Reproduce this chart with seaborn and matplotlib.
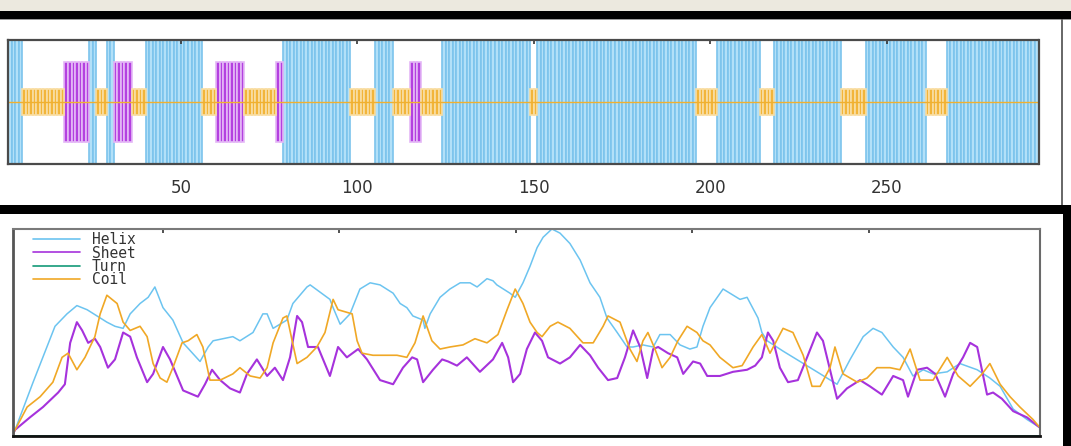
import numpy as np
import pandas as pd
import matplotlib
matplotlib.use('Agg')
import matplotlib.pyplot as plt
from matplotlib.lines import Line2D
import seaborn as sns

# secondary structure along the sequence (h=helix, e=sheet, c=coil), as runs
seg_state = ['h', 'c', 'e', 'h', 'c', 'h', 'e', 'c', 'h', 'c', 'e', 'c', 'e', 'h', 'c',
             'h', 'c', 'e', 'c', 'h', 'c', 'h', 'c', 'h', 'c', 'h', 'c', 'h', 'c', 'h']
seg_len = [4, 12, 7, 2, 3, 2, 5, 4, 16, 4, 8, 9, 2, 19, 7,
           5, 5, 3, 6, 25, 2, 45, 6, 12, 4, 19, 7, 17, 6, 26]
top_ticks = [50, 100, 150, 200, 250]

# profile curves (position, score)
helix_x = [7.5, 8.1, 13.2, 19.4, 22.8, 25.6, 28.5, 31.3, 34.1, 36.4,
           38.7, 40.7, 43.5, 45.8, 47.7, 50.0, 52.8, 55.7, 60.5, 62.8,
           64.2, 69.8, 71.8, 75.5, 78.3, 79.5, 81.2, 85.1, 86.8, 90.8,
           91.7, 97.3, 98.2, 100.2, 103.0, 105.8, 108.7, 111.5, 115.2, 117.2,
           119.1, 120.8, 123.7, 124.2, 125.7, 128.5, 131.3, 134.2, 137.0, 139.0,
           141.8, 143.5, 144.6, 148.3, 149.8, 152.0, 154.0, 156.0, 157.7, 160.2,
           162.5, 165.3, 168.2, 171.0, 173.8, 175.8, 178.7, 181.5, 183.2, 186.0,
           188.9, 190.8, 193.7, 196.5, 199.3, 201.3, 203.0, 205.0, 208.7, 213.5,
           215.5, 218.6, 219.7, 221.2, 225.7, 230.5, 235.3, 241.0, 244.7, 248.4,
           251.2, 253.7, 256.9, 259.7, 262.5, 265.4, 268.2, 272.2, 275.8, 280.7,
           284.3, 287.2, 290.9, 294.8, 298.5]
helix_y = [0.01, 0.03, 0.26, 0.53, 0.59, 0.63, 0.61, 0.58, 0.55, 0.53,
           0.52, 0.59, 0.64, 0.67, 0.72, 0.62, 0.56, 0.45, 0.36, 0.43,
           0.46, 0.48, 0.46, 0.50, 0.59, 0.59, 0.52, 0.56, 0.64, 0.72,
           0.73, 0.66, 0.62, 0.54, 0.59, 0.71, 0.74, 0.73, 0.69, 0.64,
           0.62, 0.58, 0.56, 0.52, 0.59, 0.67, 0.71, 0.74, 0.74, 0.72,
           0.76, 0.75, 0.73, 0.69, 0.67, 0.74, 0.82, 0.91, 0.96, 1.00,
           0.98, 0.93, 0.85, 0.74, 0.67, 0.57, 0.50, 0.43, 0.43, 0.44,
           0.43, 0.49, 0.49, 0.44, 0.42, 0.43, 0.53, 0.62, 0.71, 0.66,
           0.67, 0.57, 0.50, 0.46, 0.41, 0.36, 0.31, 0.25, 0.37, 0.48,
           0.52, 0.50, 0.43, 0.38, 0.29, 0.32, 0.30, 0.31, 0.35, 0.32,
           0.28, 0.24, 0.13, 0.08, 0.04]

sheet_x = [7.5, 8.1, 12.3, 16.0, 20.3, 22.2, 23.7, 25.6, 27.1, 28.8,
           30.7, 32.2, 34.4, 36.4, 38.7, 40.7, 42.6, 45.5, 47.2, 50.0,
           52.0, 55.7, 59.9, 61.9, 63.9, 66.2, 69.0, 71.8, 73.8, 76.6,
           79.5, 81.7, 84.0, 86.0, 88.0, 89.4, 91.1, 93.9, 97.3, 99.6,
           102.1, 105.3, 107.8, 111.5, 115.2, 118.0, 120.6, 122.0, 123.7, 126.5,
           129.1, 130.8, 133.3, 136.1, 139.8, 143.5, 146.1, 147.8, 149.2, 151.2,
           153.1, 155.4, 157.4, 159.1, 162.5, 165.3, 168.2, 171.0, 173.3, 176.1,
           178.7, 180.9, 183.2, 185.2, 187.2, 188.9, 190.3, 193.1, 195.7, 197.4,
           200.2, 202.2, 204.2, 207.8, 211.5, 215.5, 217.8, 219.7, 221.4, 222.9,
           224.8, 227.1, 229.9, 232.5, 235.3, 237.0, 239.0, 241.0, 243.8, 247.5,
           250.3, 253.7, 256.9, 259.7, 261.1, 263.7, 266.5, 268.8, 271.6, 273.9,
           276.7, 278.7, 280.7, 283.5, 285.2, 287.7, 290.9, 294.8, 298.5]
sheet_y = [0.01, 0.03, 0.09, 0.14, 0.21, 0.25, 0.45, 0.55, 0.51, 0.45,
           0.47, 0.43, 0.33, 0.37, 0.50, 0.48, 0.38, 0.26, 0.30, 0.43,
           0.37, 0.22, 0.19, 0.25, 0.32, 0.27, 0.23, 0.21, 0.30, 0.37,
           0.29, 0.33, 0.27, 0.38, 0.58, 0.55, 0.43, 0.43, 0.29, 0.43,
           0.38, 0.42, 0.37, 0.27, 0.25, 0.33, 0.38, 0.37, 0.26, 0.32,
           0.37, 0.36, 0.34, 0.38, 0.31, 0.37, 0.45, 0.38, 0.26, 0.30,
           0.42, 0.50, 0.46, 0.38, 0.35, 0.38, 0.44, 0.39, 0.33, 0.27,
           0.28, 0.38, 0.51, 0.43, 0.28, 0.42, 0.43, 0.40, 0.38, 0.30,
           0.36, 0.35, 0.29, 0.29, 0.31, 0.32, 0.34, 0.38, 0.50, 0.46,
           0.33, 0.26, 0.27, 0.38, 0.50, 0.46, 0.32, 0.18, 0.23, 0.27,
           0.24, 0.20, 0.29, 0.27, 0.19, 0.32, 0.33, 0.30, 0.19, 0.30,
           0.38, 0.45, 0.43, 0.20, 0.21, 0.18, 0.12, 0.09, 0.04]

turn_x = [7.5, 298.5]
turn_y = [0.0, 0.0]

coil_x = [7.5, 8.1, 11.5, 15.2, 18.8, 21.4, 23.1, 25.6, 27.9, 30.7,
          32.2, 34.1, 37.0, 38.7, 40.7, 43.5, 45.5, 47.2, 49.2, 51.1,
          52.8, 55.4, 57.1, 59.6, 61.3, 63.3, 66.2, 69.8, 71.8, 74.7,
          77.5, 79.5, 81.2, 84.0, 85.1, 86.6, 88.0, 90.8, 93.6, 95.9,
          98.2, 99.6, 103.6, 105.0, 106.4, 109.5, 112.3, 116.3, 119.1, 121.4,
          123.7, 126.2, 128.5, 131.3, 135.0, 138.4, 141.8, 144.9, 147.5, 149.8,
          152.0, 154.0, 156.0, 157.4, 159.7, 161.9, 165.3, 169.0, 171.9, 174.7,
          176.1, 179.5, 182.3, 184.3, 186.0, 187.4, 189.4, 191.4, 193.7, 195.9,
          198.5, 201.3, 203.0, 205.0, 207.8, 211.5, 214.1, 217.2, 219.7, 222.0,
          225.7, 228.5, 231.4, 233.9, 236.2, 239.0, 240.4, 242.7, 246.7, 249.5,
          252.3, 256.0, 258.8, 261.7, 264.5, 268.2, 272.2, 275.3, 278.7, 282.1,
          284.3, 287.2, 290.0, 292.8, 296.5, 298.5]
coil_y = [0.01, 0.03, 0.14, 0.19, 0.26, 0.38, 0.40, 0.32, 0.38, 0.48,
          0.59, 0.68, 0.64, 0.55, 0.51, 0.53, 0.48, 0.35, 0.28, 0.26,
          0.33, 0.45, 0.46, 0.49, 0.43, 0.27, 0.27, 0.30, 0.33, 0.29,
          0.28, 0.33, 0.45, 0.57, 0.58, 0.46, 0.35, 0.38, 0.43, 0.50,
          0.66, 0.61, 0.59, 0.46, 0.40, 0.39, 0.39, 0.39, 0.38, 0.45,
          0.58, 0.46, 0.42, 0.43, 0.44, 0.47, 0.45, 0.49, 0.61, 0.71,
          0.64, 0.55, 0.50, 0.48, 0.53, 0.55, 0.52, 0.45, 0.45, 0.53,
          0.58, 0.55, 0.42, 0.36, 0.46, 0.50, 0.42, 0.33, 0.38, 0.46,
          0.53, 0.50, 0.46, 0.44, 0.38, 0.33, 0.34, 0.43, 0.49, 0.40,
          0.52, 0.50, 0.39, 0.24, 0.24, 0.33, 0.43, 0.30, 0.26, 0.28,
          0.33, 0.33, 0.32, 0.42, 0.27, 0.27, 0.38, 0.29, 0.24, 0.30,
          0.35, 0.25, 0.19, 0.14, 0.08, 0.04]

# styling
bar_half = {'h': 1.0, 'e': 0.645, 'c': 0.21}
bar_face = {'h': '#b2e0f8', 'e': '#b440e0', 'c': '#f2b53a'}
bar_edge = {'h': '#7cc4ec', 'e': '#e4b8f6', 'c': '#f9dea4'}
line_col = {'Helix': '#6cc4f0', 'Sheet': '#a632dc', 'Turn': '#149a78', 'Coil': '#f0a826'}
line_w = {'Helix': 1.1, 'Sheet': 1.5, 'Turn': 1.3, 'Coil': 1.2}

sns.set_style('white')
plt.rcParams['font.family'] = ['DejaVu Sans']

W, H = 1071, 446
fig = plt.figure(figsize=(W / 100, H / 100), dpi=100)
fig.patch.set_facecolor('white')


def band(x0, y0, x1, y1, color):
    fig.add_artist(plt.Rectangle((x0 / W, 1 - y1 / H), (x1 - x0) / W, (y1 - y0) / H,
                                 transform=fig.transFigure, color=color, lw=0, zorder=0))


# window chrome
band(0, 0, W, 11, '#ece9df')
band(0, 11, W, 19, '#000000')
band(0, 19, W, 20, '#9a9a9a')
band(0, 205, W, 214, '#000000')
band(1063, 205, W, H, '#000000')
band(1061, 19, 1063, 205, '#6a6a6a')

# --- top: per-residue structure strip
ax1 = fig.add_axes([8 / W, 1 - 164 / H, 1030.5 / W, 124 / H])
states = np.repeat(seg_state, seg_len)
res = np.arange(1, len(states) + 1)
for s in ['h', 'e', 'c']:
    m = states == s
    hh = bar_half[s]
    ax1.bar(res[m], 2 * hh, bottom=-hh, width=1, align='edge',
            color=bar_face[s], edgecolor=bar_edge[s], linewidth=1.2, zorder=2)
ax1.axhline(0, color='#f0b030', lw=1.0, zorder=3)
ax1.set_xlim(1, len(states) + 1)
ax1.set_ylim(-1, 1)
ax1.set_yticks([])
ax1.set_xticks(top_ticks)
ax1.set_xticklabels([str(t) for t in top_ticks])
ax1.tick_params(axis='x', direction='in', length=3, width=1.2, top=True,
                labelsize=12, pad=11, labelcolor='#333333', color='#333333')
ax1.set_axisbelow(False)
for sp in ax1.spines.values():
    sp.set_visible(True)
    sp.set_color('#4a4a4a')
    sp.set_linewidth(1.6)
    sp.set_zorder(5)
ax1.set_xlabel('')
ax1.set_ylabel('')

# --- bottom: profile curves
ax2 = fig.add_axes([13 / W, 1 - 436 / H, 1027 / W, 207 / H])
df = pd.concat([
    pd.DataFrame({'pos': helix_x, 'score': helix_y, 'state': 'Helix'}),
    pd.DataFrame({'pos': sheet_x, 'score': sheet_y, 'state': 'Sheet'}),
    pd.DataFrame({'pos': turn_x, 'score': turn_y, 'state': 'Turn'}),
    pd.DataFrame({'pos': coil_x, 'score': coil_y, 'state': 'Coil'}),
], ignore_index=True)
for name in ['Helix', 'Sheet', 'Turn', 'Coil']:
    sns.lineplot(data=df[df['state'] == name], x='pos', y='score', color=line_col[name],
                 estimator=None, sort=False, linewidth=line_w[name], ax=ax2)
ax2.set_xlim(7.5, 298.5)
ax2.set_ylim(0, 1)
ax2.set_yticks([])
ax2.set_xticks(top_ticks)
ax2.set_xticklabels([])
ax2.tick_params(axis='x', direction='in', length=3, width=1.2, top=True, color='#333333')
ax2.set_xlabel('')
ax2.set_ylabel('')
for name, sp in ax2.spines.items():
    sp.set_visible(True)
    sp.set_zorder(5)
ax2.spines['top'].set_color('#7a7a7a')
ax2.spines['top'].set_linewidth(1.5)
ax2.spines['right'].set_color('#6a6a6a')
ax2.spines['right'].set_linewidth(1.5)
ax2.spines['left'].set_color('#555555')
ax2.spines['left'].set_linewidth(2)
ax2.spines['bottom'].set_color('#111111')
ax2.spines['bottom'].set_linewidth(2)

handles = [Line2D([], [], color=line_col[k], lw=1.2) for k in ['Helix', 'Sheet', 'Turn', 'Coil']]
ax2.legend(handles, ['Helix', 'Sheet', 'Turn', 'Coil'], loc='upper left',
           bbox_to_anchor=(0.0195, 0.984), frameon=False, borderpad=0, borderaxespad=0,
           handlelength=3.2, handletextpad=0.85, labelspacing=-0.12,
           prop={'family': 'DejaVu Sans Mono', 'size': 10.5}, labelcolor='#333333')

fig.savefig('out.png', dpi=100)
